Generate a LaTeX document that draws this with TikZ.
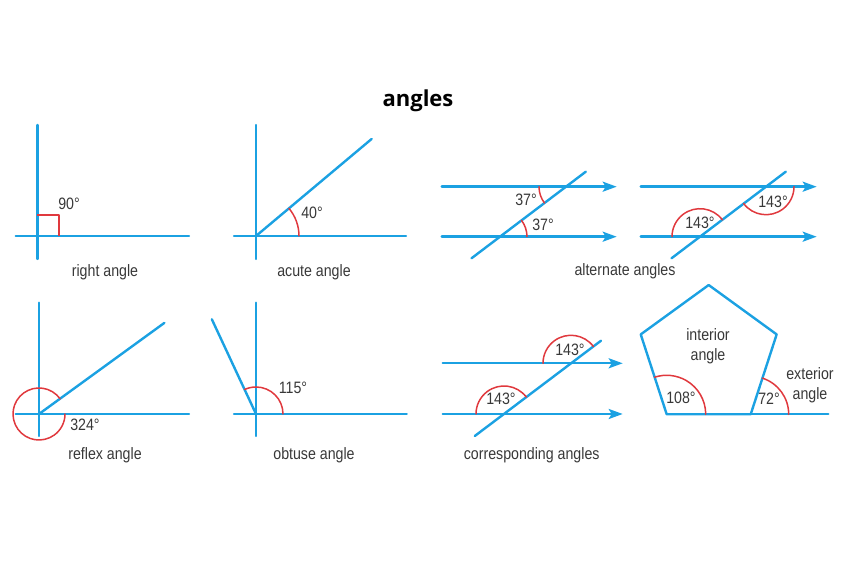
\documentclass[tikz,border=0pt]{standalone}
\usepackage{fontspec}
\setmainfont{Liberation Sans}[FakeStretch=0.86]
\newfontfamily\titlefont{Open Sans}
\usepackage{tikz}
\usetikzlibrary{arrows.meta,calc,angles,positioning}
\definecolor{lineblue}{HTML}{1BA1E2}
\definecolor{markred}{HTML}{E0393E}
\definecolor{txtgray}{HTML}{383838}

\begin{document}
\begin{tikzpicture}[x=1pt,y=1pt,line cap=round,line join=round,
  >={Stealth[length=14pt,width=10pt,inset=3pt]},
  bline/.style={lineblue,line width=2.4pt},
  rarc/.style={draw=markred,line width=1.5pt},
  lbl/.style={text=txtgray,font=\fontsize{16.5}{19.5}\selectfont,inner sep=0pt,align=center}]
\useasboundingbox (0,0) rectangle (855,577);
\node[font=\titlefont\bfseries\fontsize{22}{24}\selectfont,anchor=base] (title) at (418,470.3) {angles};

% right angle
\coordinate (O1) at (37.3,341);
\draw[bline] ($(O1)+(0,111)$) -- ($(O1)+(0,-23)$);
\draw[bline] ($(O1)+(-21.6,0)$) -- ($(O1)+(151.7,0)$);
\draw[markred,line width=2pt,line cap=butt] ($(O1)+(0,21)$) -- ++(21.2,0) -- ++(0,-21);
\node[lbl] (l90) at (69,373) {90°};
\node[lbl] (rightlbl) at (105,304.3) {right angle};

% acute angle
\coordinate (O2) at (256,341);
\coordinate (H2) at (406,341);
\draw[bline] (256,452) -- (256,318);
\draw[bline] (234,341) -- (H2);
\draw[bline] (O2) -- ++(40:151) coordinate (A2);
\pic[rarc,angle radius=43pt] {angle = H2--O2--A2};
\node[lbl] (l40) at (312,364) {40°};
\node[lbl] (acutelbl) at (314,304.3) {acute angle};

% alternate angles, 1st pair
\coordinate (M1a) at (441.7,390.3); \coordinate (M1b) at (616.7,390.3);
\coordinate (M2a) at (441.7,340.3); \coordinate (M2b) at (616.7,340.3);
\coordinate (T1a) at (471.5,318.7); \coordinate (T1b) at (585.8,405.3);
\coordinate (P1) at (500,340.3); \coordinate (Q1) at (566,390.3);
\draw[bline,->] (M1a) -- (M1b);
\draw[bline,->] (M2a) -- (M2b);
\draw[bline] (T1a) -- (T1b);
\pic[rarc,angle radius=27pt] {angle = M1a--Q1--T1a};
\pic[rarc,angle radius=27pt] {angle = M2b--P1--T1b};
\node[lbl] (l37a) at (526,377) {37°};
\node[lbl] (l37b) at (543,352) {37°};

% alternate angles, 2nd pair
\coordinate (N1a) at (640.7,390.3); \coordinate (N1b) at (816.7,390.3);
\coordinate (N2a) at (640.7,340.3); \coordinate (N2b) at (816.7,340.3);
\coordinate (T2a) at (671.5,318.7); \coordinate (T2b) at (785.8,405.3);
\coordinate (P2) at (700,340.3); \coordinate (Q2) at (766,390.3);
\draw[bline,->] (N1a) -- (N1b);
\draw[bline,->] (N2a) -- (N2b);
\draw[bline] (T2a) -- (T2b);
\pic[rarc,angle radius=28pt] {angle = T2a--Q2--N1b};
\pic[rarc,angle radius=28pt] {angle = T2b--P2--N2a};
\node[lbl] (l143a) at (773,375.3) {143°};
\node[lbl] (l143b) at (700,354) {143°};
\node[lbl] (altlbl) at (625,305.3) {alternate angles};

% reflex angle
\coordinate (O3) at (39,163);
\coordinate (H3) at (189,163);
\draw[bline] (39,274.3) -- (39,141);
\draw[bline] (15.7,163) -- (H3);
\draw[bline] (O3) -- ++(36:155) coordinate (A3);
\pic[rarc,angle radius=26pt] {angle = A3--O3--H3};
\node[lbl] (l324) at (85,152) {324°};
\node[lbl] (reflexlbl) at (105,121.3) {reflex angle};

% obtuse angle
\coordinate (O4) at (256,163);
\coordinate (H4) at (406.7,163);
\draw[bline] (256,274.3) -- (256,141);
\draw[bline] (234,163) -- (H4);
\draw[bline] (O4) -- ++(115:104.5) coordinate (A4);
\pic[rarc,angle radius=27pt] {angle = H4--O4--A4};
\node[lbl] (l115) at (293,189.3) {115°};
\node[lbl] (obtuselbl) at (314,121.3) {obtuse angle};

% corresponding angles
\coordinate (K1a) at (442.7,213.7); \coordinate (K1b) at (622.7,213.7);
\coordinate (K2a) at (442.7,163); \coordinate (K2b) at (622.7,163);
\coordinate (T3a) at (474.8,141); \coordinate (T3b) at (601,236.3);
\coordinate (P3) at (504,163); \coordinate (Q3) at (571,213.7);
\draw[bline,->] (K1a) -- (K1b);
\draw[bline,->] (K2a) -- (K2b);
\draw[bline] (T3a) -- (T3b);
\pic[rarc,angle radius=28pt] {angle = T3b--Q3--K1a};
\pic[rarc,angle radius=28pt] {angle = T3b--P3--K2a};
\node[lbl] (l143c) at (570,227) {143°};
\node[lbl] (l143d) at (501,177.7) {143°};
\node[lbl] (corrlbl) at (531.7,122) {corresponding angles};

% pentagon
\coordinate (pA) at (666.7,162.7);
\coordinate (pB) at ($(pA)+(84,0)$);
\coordinate (pC) at ($(pB)+(72:84)$);
\coordinate (pD) at ($(pC)+(144:84)$);
\coordinate (pE) at ($(pA)+(108:84)$);
\coordinate (pX) at (828.3,162.7);
\draw[bline] (pA) -- (pB) -- (pC) -- (pD) -- (pE) -- cycle;
\draw[bline] (pB) -- (pX);
\pic[rarc,angle radius=39pt] {angle = pB--pA--pE};
\pic[rarc,angle radius=38pt] {angle = pX--pB--pC};
\node[lbl] (l108) at (681,178.7) {108°};
\node[lbl] (l72) at (769,178.7) {72°};
\node[lbl] (intlbl) at (708,230.7) {interior\\angle};
\node[lbl] (extlbl) at (810,192) {exterior\\angle};
\end{tikzpicture}
\end{document}
